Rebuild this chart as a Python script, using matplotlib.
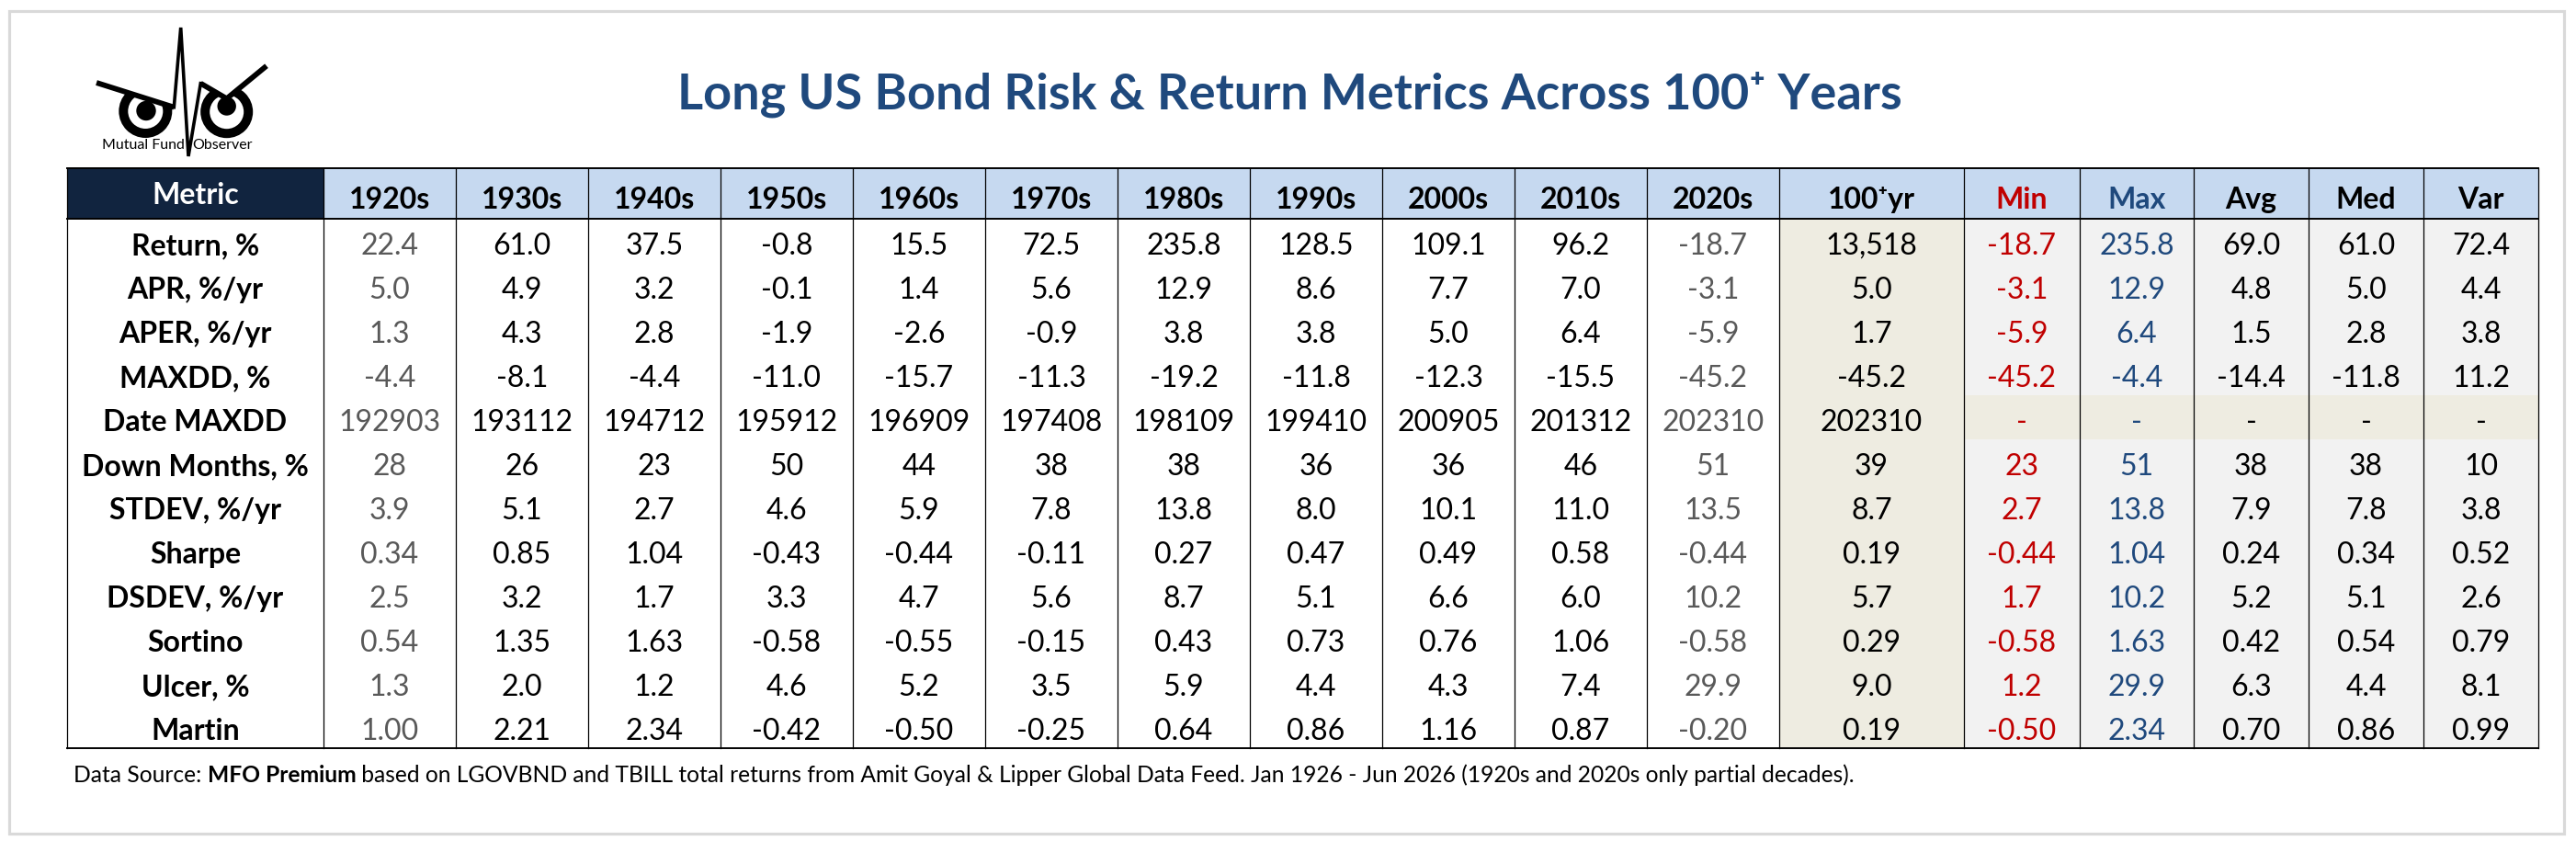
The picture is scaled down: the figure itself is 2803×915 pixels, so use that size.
import matplotlib
matplotlib.use("Agg")
import matplotlib.pyplot as plt
from matplotlib.patches import Rectangle, Circle, Polygon
from matplotlib.lines import Line2D

# ---------------- data ----------------
title = "Long US Bond Risk & Return Metrics Across 100\u207a Years"
metrics = ["Return, %", "APR, %/yr", "APER, %/yr", "MAXDD, %", "Date MAXDD",
           "Down Months, %", "STDEV, %/yr", "Sharpe", "DSDEV, %/yr",
           "Sortino", "Ulcer, %", "Martin"]
decades = ["1920s", "1930s", "1940s", "1950s", "1960s", "1970s",
           "1980s", "1990s", "2000s", "2010s", "2020s"]
summary_cols = ["100\u207ayr", "Min", "Max", "Avg", "Med", "Var"]
decimals = [1, 1, 1, 1, 0, 0, 1, 2, 1, 2, 1, 2]

return_pct = [22.4, 61.0, 37.5, -0.8, 15.5, 72.5, 235.8, 128.5, 109.1, 96.2, -18.7]
apr = [5.0, 4.9, 3.2, -0.1, 1.4, 5.6, 12.9, 8.6, 7.7, 7.0, -3.1]
aper = [1.3, 4.3, 2.8, -1.9, -2.6, -0.9, 3.8, 3.8, 5.0, 6.4, -5.9]
maxdd = [-4.4, -8.1, -4.4, -11.0, -15.7, -11.3, -19.2, -11.8, -12.3, -15.5, -45.2]
date_maxdd = [192903, 193112, 194712, 195912, 196909, 197408, 198109, 199410, 200905, 201312, 202310]
down_months = [28, 26, 23, 50, 44, 38, 38, 36, 36, 46, 51]
stdev = [3.9, 5.1, 2.7, 4.6, 5.9, 7.8, 13.8, 8.0, 10.1, 11.0, 13.5]
sharpe = [0.34, 0.85, 1.04, -0.43, -0.44, -0.11, 0.27, 0.47, 0.49, 0.58, -0.44]
dsdev = [2.5, 3.2, 1.7, 3.3, 4.7, 5.6, 8.7, 5.1, 6.6, 6.0, 10.2]
sortino = [0.54, 1.35, 1.63, -0.58, -0.55, -0.15, 0.43, 0.73, 0.76, 1.06, -0.58]
ulcer = [1.3, 2.0, 1.2, 4.6, 5.2, 3.5, 5.9, 4.4, 4.3, 7.4, 29.9]
martin = [1.00, 2.21, 2.34, -0.42, -0.50, -0.25, 0.64, 0.86, 1.16, 0.87, -0.20]
decade_rows = [return_pct, apr, aper, maxdd, date_maxdd, down_months, stdev,
               sharpe, dsdev, sortino, ulcer, martin]

hundred_yr = [13518, 5.0, 1.7, -45.2, 202310, 39, 8.7, 0.19, 5.7, 0.29, 9.0, 0.19]
min_vals = [-18.7, -3.1, -5.9, -45.2, None, 23, 2.7, -0.44, 1.7, -0.58, 1.2, -0.50]
max_vals = [235.8, 12.9, 6.4, -4.4, None, 51, 13.8, 1.04, 10.2, 1.63, 29.9, 2.34]
avg_vals = [69.0, 4.8, 1.5, -14.4, None, 38, 7.9, 0.24, 5.2, 0.42, 6.3, 0.70]
med_vals = [61.0, 5.0, 2.8, -11.8, None, 38, 7.8, 0.34, 5.1, 0.54, 4.4, 0.86]
var_vals = [72.4, 4.4, 3.8, 11.2, None, 10, 3.8, 0.52, 2.6, 0.79, 8.1, 0.99]
summary_data = [hundred_yr, min_vals, max_vals, avg_vals, med_vals, var_vals]

footnote_parts = [("Data Source: ", "normal"), ("MFO Premium", "bold"),
                  (" based on LGOVBND and TBILL total returns from Amit Goyal & Lipper "
                   "Global Data Feed. Jan 1926 - Jun 2026 (1920s and 2020s only partial decades).",
                   "normal")]


def fmt(v, row):
    if v is None:
        return "-"
    if row == 4:
        return "%d" % v
    if abs(v) >= 10000:
        return "{:,.0f}".format(v)
    return ("{:.%df}" % decimals[row]).format(v)


# ---------------- layout ----------------
W, H = 2803, 915
FAM = ["Lato", "DejaVu Sans"]
NAVY = "#11243f"
HDR_BG = "#c6d9f0"
BEIGE = "#eeece1"
LGRAY = "#f2f2f2"
GRAYTXT = "#595959"
RED = "#c00000"
BLUE = "#1f497d"

fig = plt.figure(figsize=(W / 100, H / 100), dpi=100)
ax = fig.add_axes([0, 0, 1, 1])
ax.set_xlim(0, W)
ax.set_ylim(H, 0)
ax.axis("off")
renderer = fig.canvas.get_renderer()

# outer frame
ax.add_patch(Rectangle((10, 12), 2780, 895, fill=False, ec="#d9d9d9", lw=2.3))

# column edges
left = 73
edges = [left, 352] + [352 + 144 * (i + 1) for i in range(len(decades))]
edges += [2137, 2263, 2387, 2512, 2637, 2762]
hdr_top, hdr_bot = 183, 238
row_h = 48.0
n_rows = len(metrics)
tbl_bot = hdr_bot + row_h * n_rows

# header backgrounds
ax.add_patch(Rectangle((edges[0], hdr_top), edges[1] - edges[0], hdr_bot - hdr_top,
                       fc=NAVY, ec="none"))
ax.add_patch(Rectangle((edges[1], hdr_top), edges[-1] - edges[1], hdr_bot - hdr_top,
                       fc=HDR_BG, ec="none"))
# body backgrounds
c100 = 1 + len(decades)
ax.add_patch(Rectangle((edges[c100], hdr_bot), edges[c100 + 1] - edges[c100],
                       tbl_bot - hdr_bot, fc=BEIGE, ec="none"))
ax.add_patch(Rectangle((edges[c100 + 1], hdr_bot), edges[-1] - edges[c100 + 1],
                       tbl_bot - hdr_bot, fc=LGRAY, ec="none"))
ax.add_patch(Rectangle((edges[c100 + 1], hdr_bot + 4 * row_h), edges[-1] - edges[c100 + 1],
                       row_h, fc=BEIGE, ec="none"))

# grid lines
for x in edges:
    ax.add_line(Line2D([x, x], [hdr_top, tbl_bot], color="black", lw=0.9))
for y in (hdr_top, hdr_bot, tbl_bot):
    ax.add_line(Line2D([edges[0], edges[-1]], [y, y], color="black", lw=1.4))

TS = 23
# header texts
centers = [(edges[i] + edges[i + 1]) / 2 for i in range(len(edges) - 1)]
ax.text(centers[0], 222, "Metric", color="white", fontsize=TS, fontweight="bold",
        family=FAM, ha="center", va="baseline")
hdr_labels = decades + summary_cols
hdr_colors = ["black"] * (len(decades) + 1) + [RED, BLUE, "black", "black", "black"]
for j, (lab, col) in enumerate(zip(hdr_labels, hdr_colors)):
    ax.text(centers[j + 1], 227, lab, color=col, fontsize=TS, fontweight="bold",
            family=FAM, ha="center", va="baseline")

# body
for r, m in enumerate(metrics):
    yb = hdr_bot + r * row_h + 39
    ax.text(centers[0], yb, m, color="black", fontsize=TS, fontweight="bold",
            family=FAM, ha="center", va="baseline")
    for j, v in enumerate(decade_rows[r]):
        col = GRAYTXT if j in (0, len(decades) - 1) else "black"
        ax.text(centers[j + 1], yb, fmt(v, r), color=col, fontsize=TS,
                family=FAM, ha="center", va="baseline")
    sum_colors = ["black", RED, BLUE, "black", "black", "black"]
    for k, series in enumerate(summary_data):
        ax.text(centers[c100 + k], yb, fmt(series[r], r), color=sum_colors[k],
                fontsize=TS, family=FAM, ha="center", va="baseline")

# title
ax.text(1403, 118, title, color=BLUE, fontsize=39, fontweight="bold", family=FAM,
        ha="center", va="baseline")

# footnote
FS = 17.7
x = 80
for txt, wt in footnote_parts:
    t = ax.text(x, 851, txt, fontsize=FS, fontweight=wt, family=FAM,
                ha="left", va="baseline", color="black")
    probe = ax.text(0, 0, txt.replace(" ", "\u00a0") + "|", fontsize=FS, fontweight=wt, family=FAM)
    bar = ax.text(0, 0, "|", fontsize=FS, fontweight=wt, family=FAM)
    x += probe.get_window_extent(renderer).width - bar.get_window_extent(renderer).width
    probe.remove()
    bar.remove()

# ---------------- logo ----------------
for (cx, cy, ro, ri, px, py, pr) in [(158.3, 121.0, 29, 19, 159, 120.5, 10.7),
                                     (246.7, 121.7, 28.5, 18.5, 246.7, 115.5, 10.2)]:
    ax.add_patch(Circle((cx, cy), ro, fc="black", ec="none"))
    ax.add_patch(Circle((cx, cy), ri, fc="white", ec="none"))
    ax.add_patch(Circle((px, py), pr, fc="black", ec="none"))
ax.add_patch(Polygon([(105, 90), (189.3, 116.7), (189.3, 55), (105, 55)],
                     closed=True, fc="white", ec="none"))
ax.add_patch(Polygon([(218.3, 90.7), (246.7, 107.3), (290, 71.7), (290, 55), (218.3, 55)],
                     closed=True, fc="white", ec="none"))
ax.add_line(Line2D([105, 189.3], [90, 116.7], color="black", lw=4.2, solid_capstyle="butt"))
ax.add_line(Line2D([189.3, 196.7, 205, 218.3], [116.7, 30, 170, 90.7], color="black",
                   lw=2.6, solid_joinstyle="miter"))
ax.add_line(Line2D([218.3, 246.7, 290], [90.7, 107.3, 71.7], color="black", lw=4.2,
                   solid_joinstyle="miter", solid_capstyle="butt"))
ax.text(201, 161.5, "Mutual Fund", fontsize=11.5, family=FAM, ha="right", va="baseline")
ax.text(209, 161.5, "Observer", fontsize=11.5, family=FAM, ha="left", va="baseline")

fig.savefig("out.png", dpi=100, facecolor="white")
